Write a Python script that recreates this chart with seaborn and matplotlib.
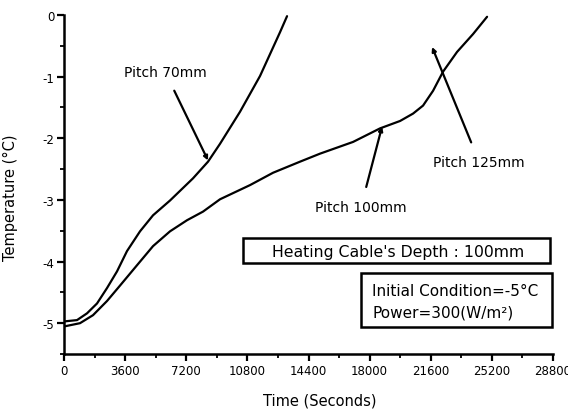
import matplotlib
matplotlib.use("Agg")
import matplotlib.pyplot as plt
import seaborn as sns
import pandas as pd
from matplotlib.ticker import MultipleLocator
from matplotlib.patches import Rectangle

# Data
t70 = [59, 766, 1355, 1944, 2533, 3121, 3710, 4476, 5242, 6243, 7598, 8481,
       9188, 10366, 11544, 12721, 13134]
T70 = [-4.97, -4.95, -4.84, -4.68, -4.43, -4.16, -3.83, -3.51, -3.25, -3.01, -2.65, -2.38,
       -2.09, -1.57, -0.99, -0.28, -0.02]

t100 = [59, 942, 1708, 2533, 3298, 4299, 5242, 6243, 7244, 8187, 9188, 10955, 12309,
        13900, 15077, 17021, 18612, 19790, 20556, 21145, 21734, 22322, 23146, 24089, 24914]
T100 = [-5.05, -5.00, -4.87, -4.64, -4.39, -4.06, -3.75, -3.51, -3.33, -3.19, -2.99, -2.76, -2.56,
        -2.38, -2.25, -2.06, -1.84, -1.72, -1.60, -1.47, -1.23, -0.92, -0.60, -0.31, -0.03]

x_ticks = [0, 3600, 7200, 10800, 14400, 18000, 21600, 25200, 28800]
y_ticks = [0, -1, -2, -3, -4, -5]

df = pd.concat([
    pd.DataFrame({"t": t70, "T": T70, "s": "70"}),
    pd.DataFrame({"t": t100, "T": T100, "s": "100"}),
])

sns.set_style("ticks", {"text.color": "black", "axes.labelcolor": "black",
                        "xtick.color": "black", "ytick.color": "black",
                        "axes.edgecolor": "black"})
plt.rcParams["font.family"] = ["DejaVu Sans"]

fig = plt.figure(figsize=(5.68, 4.14), dpi=100)
ax = fig.add_axes([0.1127, 0.1425, 0.861, 0.819])

sns.lineplot(data=df, x="t", y="T", units="s", estimator=None, sort=False,
             color="black", linewidth=1.6, ax=ax, legend=False)

ax.set_xlim(0, 28800)
ax.set_ylim(-5.5, 0)
ax.set_xticks(x_ticks)
ax.set_xticklabels([str(v) for v in x_ticks])
ax.set_yticks(y_ticks)
ax.set_yticklabels([str(v) for v in y_ticks])
ax.xaxis.set_minor_locator(MultipleLocator(1800))
ax.yaxis.set_minor_locator(MultipleLocator(0.5))
ax.tick_params(which="major", direction="out", length=5, width=1.6, labelsize=8.5,
               color="black", labelcolor="black", pad=2)
ax.tick_params(which="minor", direction="out", length=3, width=1.3, color="black")
for side in ["top", "right"]:
    ax.spines[side].set_visible(False)
for side in ["left", "bottom"]:
    ax.spines[side].set_linewidth(1.8)
    ax.spines[side].set_color("black")

ax.set_xlabel("Time (Seconds)", fontsize=10.5, color="black")
ax.set_ylabel("Temperature (°C)", fontsize=10.5, color="black")
ax.xaxis.set_label_coords(0.523, -0.115)
ax.yaxis.set_label_coords(-0.094, 0.463)

ann_kw = dict(fontsize=10, ha="center", va="center", color="black",
              arrowprops=dict(arrowstyle="-|>", color="black", lw=1.6,
                              mutation_scale=6, shrinkA=7, shrinkB=0))
ax.annotate("Pitch 70mm", xy=(8482, -2.36), xytext=(5949, -0.92), **ann_kw)
ax.annotate("Pitch 100mm", xy=(18730, -1.81), xytext=(17493, -3.11), **ann_kw)
ax.annotate("Pitch 125mm", xy=(21675, -0.52), xytext=(24443, -2.38), **ann_kw)

W, H = 568, 414
def box(x0, y0, x1, y1):
    fig.patches.append(Rectangle((x0 / W, 1 - y1 / H), (x1 - x0) / W, (y1 - y0) / H,
                                 transform=fig.transFigure, fc="white", ec="black",
                                 lw=1.8, zorder=3))

box(243, 239, 550, 264)
box(361, 274, 552, 328)
fig.text(398 / W, 1 - 252 / H, "Heating Cable's Depth : 100mm",
         fontsize=11.3, ha="center", va="center", color="black", zorder=4)
fig.text(372 / W, 1 - 302 / H, "Initial Condition=-5°C\nPower=300(W/m²)",
         fontsize=11, ha="left", va="center", linespacing=1.55, color="black", zorder=4)

fig.savefig("out.png", dpi=100)
